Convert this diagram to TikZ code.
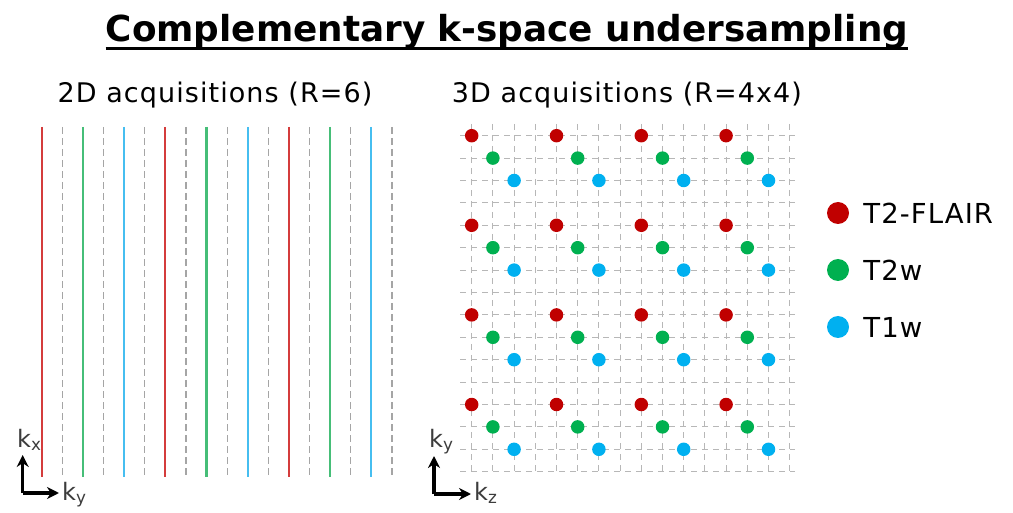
\documentclass[tikz,border=0pt]{standalone}
\usepackage{fontspec}
\setmainfont{DejaVu Sans}
\usetikzlibrary{arrows.meta,positioning}
\definecolor{FlairRed}{RGB}{192,0,0}
\definecolor{TTwoGreen}{RGB}{0,176,80}
\definecolor{TOneBlue}{RGB}{0,176,240}
\definecolor{LineRed}{RGB}{212,60,60}
\definecolor{LineGreen}{RGB}{70,190,120}
\definecolor{LineBlue}{RGB}{70,190,240}
\definecolor{GapGray}{RGB}{165,165,165}
\definecolor{AxisGray}{RGB}{60,60,60}

\begin{document}
\begin{tikzpicture}[x=1pt,y=-1pt,
  sample/.style={line width=2.2pt},
  gap/.style={draw=GapGray,line width=1.2pt,dash pattern=on 7pt off 4pt},
  gridline/.style={draw=GapGray!80,line width=1.1pt,dash pattern=on 6pt off 5pt},
  dot/.style={circle,inner sep=0pt,minimum size=13.5pt},
  legdot/.style={circle,inner sep=0pt,minimum size=22pt},
  legtext/.style={inner sep=0pt,anchor=west,font=\fontsize{27.5}{32}\selectfont\addfontfeature{LetterSpace=4}},
  heading/.style={inner sep=0pt,anchor=base,font=\fontsize{27}{32}\selectfont\addfontfeature{LetterSpace=4}},
  axis/.style={-{Stealth[length=12pt,width=12pt]},line width=3.4pt,black},
  axlabel/.style={inner sep=0pt,anchor=base west,text=AxisGray,font=\fontsize{24}{28}\selectfont}
]
  \useasboundingbox (0,0) rectangle (1013,513);

  % title
  \node[inner sep=0pt,anchor=base,font=\fontsize{35.8}{42}\selectfont\bfseries] (title) at (507,41.7)
    {Complementary k-space undersampling};
  \draw[line width=3.4pt] ([yshift=-7pt]title.base west) -- ([yshift=-7pt]title.base east);

  \node[heading] (head2d) at (215,103) {2D acquisitions (R=6)};
  \node[heading] (head3d) at (627,103) {3D acquisitions (R=4x4)};

  % 2D lines
  \foreach \i/\c in {0/LineRed,1/LineGreen,2/LineBlue,3/LineRed,4/LineGreen,5/LineBlue,6/LineRed,7/LineGreen,8/LineBlue}{
    \draw[sample,\c] (41.7+41.2*\i,127) -- (41.7+41.2*\i,477);
    \draw[gap] (62.3+41.2*\i,127) -- (62.3+41.2*\i,477);
  }

  % 3D grid
  \foreach \k in {0,...,15}{
    \draw[gridline] (460,135.7+22.4*\k) -- (795,135.7+22.4*\k);
    \draw[gridline] (471.7+21.2*\k,124) -- (471.7+21.2*\k,474);
  }
  \foreach \r in {0,...,3}{
    \foreach \c in {0,...,3}{
      \node[dot,fill=FlairRed]  (flair-\r-\c) at (471.7+84.8*\c,135.7+89.6*\r) {};
      \node[dot,fill=TTwoGreen] (ttwo-\r-\c)  at (492.9+84.8*\c,158.1+89.6*\r) {};
      \node[dot,fill=TOneBlue]  (tone-\r-\c)  at (514.1+84.8*\c,180.5+89.6*\r) {};
    }
  }

  % legend
  \node[legdot,fill=FlairRed]  (legflair) at (838,213) {};
  \node[legdot,fill=TTwoGreen] (legttwo)  at (838,270) {};
  \node[legdot,fill=TOneBlue]  (legtone)  at (838,327) {};
  \node[legtext,right=14pt of legflair] (txtflair) {T2-FLAIR};
  \node[legtext,right=14pt of legttwo]  (txtttwo)  {T2w};
  \node[legtext,right=14pt of legtone]  (txttone)  {T1w};

  % axes
  \coordinate (origA) at (22.7,493);
  \coordinate (kxtip) at (22.7,455);
  \coordinate (kytip) at (59,493);
  \draw[axis] (origA) -- (kxtip);
  \draw[axis] (origA) -- (kytip);
  \node[axlabel] (kxlab) at (17,447) {k\textsubscript{x}};
  \node[axlabel] (kylab) at (62,500) {k\textsubscript{y}};

  \coordinate (origB) at (434,494);
  \coordinate (kybtip) at (434,456);
  \coordinate (kztip) at (471,494);
  \draw[axis] (origB) -- (kybtip);
  \draw[axis] (origB) -- (kztip);
  \node[axlabel] (kyblab) at (429,447) {k\textsubscript{y}};
  \node[axlabel] (kzlab) at (474,500) {k\textsubscript{z}};
\end{tikzpicture}
\end{document}
